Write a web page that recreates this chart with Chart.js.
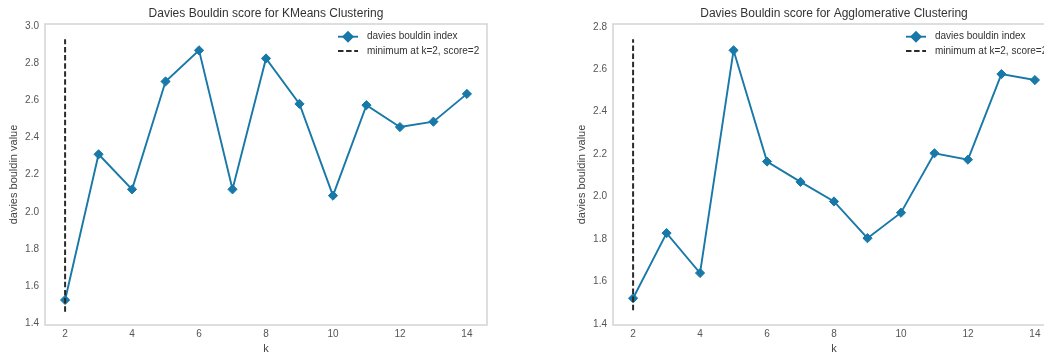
<!DOCTYPE html>
<html>
<head>
<meta charset="utf-8">
<script src="https://cdn.jsdelivr.net/npm/chart.js@4.4.1/dist/chart.umd.min.js"></script>
<style>
  html, body { margin: 0; padding: 0; overflow: hidden; background: #fff; width: 1044px; height: 354px; }
  .panel { position: absolute; top: 0; width: 520px; height: 354px; }
</style>
</head>
<body>
<div class="panel" style="left:0px"><canvas id="kmeans" width="520" height="354"></canvas></div>
<div class="panel" style="left:568px"><canvas id="agglo" width="520" height="354"></canvas></div>
<script>
// Number of clusters tried
const kValues = [2, 3, 4, 5, 6, 7, 8, 9, 10, 11, 12, 13, 14];

// Davies-Bouldin scores per k
const kmeansScores = [1.524, 2.310, 2.121, 2.703, 2.871, 2.121, 2.827, 2.582, 2.087, 2.575, 2.457, 2.486, 2.636];
const aggloScores  = [1.521, 1.828, 1.640, 2.689, 2.165, 2.069, 1.977, 1.804, 1.924, 2.204, 2.174, 2.577, 2.549];

// Tick labels
const kTicks = [2, 4, 6, 8, 10, 12, 14];
const kmeansYTicks = [1.4, 1.6, 1.8, 2.0, 2.2, 2.4, 2.6, 2.8, 3.0];
const aggloYTicks  = [1.4, 1.6, 1.8, 2.0, 2.2, 2.4, 2.6, 2.8];

// Axis ranges
const kRange = [1.4, 14.6];
const kmeansYRange = [1.389, 3.013];
const aggloYRange  = [1.395, 2.813];

// Elbow marker (best k) and the vertical extent of its dashed line
const elbowK = 2;
const kmeansElbowSpan = [1.461, 2.931];
const aggloElbowSpan  = [1.465, 2.741];

// Text
const kmeansTitle = 'Davies Bouldin score for KMeans Clustering';
const aggloTitle  = 'Davies Bouldin score for Agglomerative Clustering';
const seriesLabel = 'davies bouldin index';
const elbowLabel  = 'minimum at k=2, score=2';
const yAxisLabel  = 'davies bouldin value';
const xAxisLabel  = 'k';

const FONT = "'Liberation Sans', Arial, sans-serif";
const LINE_COLOR = '#1878a8';
const ELBOW_COLOR = '#2a2a2a';
const ELBOW_DASH = [5.5, 2.6];

// Plot frame, title and in-axes legend
const decorPlugin = {
  id: 'decor',
  afterDraw(chart, args, opts) {
    const ctx = chart.ctx;
    const a = chart.chartArea;
    ctx.save();
    // frame
    ctx.strokeStyle = '#d6d6d6';
    ctx.lineWidth = 1.6;
    ctx.strokeRect(a.left, a.top, a.right - a.left, a.bottom - a.top);
    // title
    ctx.fillStyle = '#333';
    ctx.font = '12px ' + FONT;
    ctx.textAlign = 'center';
    ctx.textBaseline = 'middle';
    ctx.fillText(opts.title, (a.left + a.right) / 2, 14);
    // legend
    const x1 = a.right - 149, x2 = a.right - 129, tx = a.right - 120;
    const rows = [a.top + 12.7, a.top + 27];
    chart.data.datasets.slice().reverse().forEach((ds, i) => {
      const y = rows[i];
      ctx.beginPath();
      ctx.strokeStyle = ds.borderColor;
      ctx.lineWidth = ds.borderWidth;
      ctx.setLineDash(ds.borderDash || []);
      ctx.moveTo(x1, y);
      ctx.lineTo(x2, y);
      ctx.stroke();
      ctx.setLineDash([]);
      if (ds.pointRadius > 0) {
        Chart.helpers.drawPoint(ctx, {pointStyle: 'rectRot', radius: ds.pointRadius, borderWidth: 1}, (x1 + x2) / 2, y);
        ctx.fillStyle = ds.pointBackgroundColor;
        ctx.fill();
      }
      ctx.fillStyle = '#333';
      ctx.font = '10px ' + FONT;
      ctx.textAlign = 'left';
      ctx.textBaseline = 'middle';
      ctx.fillText(ds.label, tx, y);
    });
    ctx.restore();
  }
};

function makeChart(id, title, scores, yRange, yTicks, elbowSpan) {
  const seriesPoints = kValues.map((k, i) => ({x: k, y: scores[i]}));
  const elbowPoints = elbowSpan.map(v => ({x: elbowK, y: v}));
  return new Chart(document.getElementById(id), {
    type: 'line',
    data: {
      datasets: [
        {
          label: elbowLabel,
          data: elbowPoints,
          borderColor: ELBOW_COLOR,
          borderWidth: 2,
          borderDash: ELBOW_DASH,
          pointRadius: 0,
          fill: false
        },
        {
          label: seriesLabel,
          data: seriesPoints,
          borderColor: LINE_COLOR,
          borderWidth: 1.9,
          pointStyle: 'rectRot',
          pointRadius: 4.6,
          pointBackgroundColor: LINE_COLOR,
          pointBorderColor: LINE_COLOR,
          pointBorderWidth: 1,
          tension: 0,
          fill: false
        }
      ]
    },
    options: {
      responsive: false,
      animation: false,
      devicePixelRatio: 1,
      layout: { padding: { left: 0, right: 33, top: 24, bottom: 0 } },
      plugins: {
        legend: { display: false },
        tooltip: { enabled: false },
        decor: { title: title }
      },
      scales: {
        x: {
          type: 'linear',
          min: kRange[0],
          max: kRange[1],
          afterFit(s) { s.height = 29; },
          afterBuildTicks(s) { s.ticks = kTicks.map(v => ({value: v})); },
          grid: { display: false, drawTicks: false },
          border: { display: false },
          ticks: { color: '#555', font: { family: FONT, size: 10 }, padding: 3, maxRotation: 0, autoSkip: false },
          title: { display: true, text: xAxisLabel, color: '#444', font: { family: FONT, size: 11, lineHeight: 1 }, padding: { top: 0, bottom: 0 } }
        },
        y: {
          type: 'linear',
          min: yRange[0],
          max: yRange[1],
          afterFit(s) { s.width = 45; },
          afterBuildTicks(s) { s.ticks = yTicks.map(v => ({value: v})); },
          grid: { display: false, drawTicks: false },
          border: { display: false },
          ticks: { color: '#555', font: { family: FONT, size: 10 }, padding: 6, autoSkip: false, callback: v => v.toFixed(1) },
          title: { display: true, text: yAxisLabel, color: '#444', font: { family: FONT, size: 11 }, padding: { top: 7.5, bottom: 0 } }
        }
      }
    },
    plugins: [decorPlugin]
  });
}

makeChart('kmeans', kmeansTitle, kmeansScores, kmeansYRange, kmeansYTicks, kmeansElbowSpan);
makeChart('agglo', aggloTitle, aggloScores, aggloYRange, aggloYTicks, aggloElbowSpan);
</script>
</body>
</html>
